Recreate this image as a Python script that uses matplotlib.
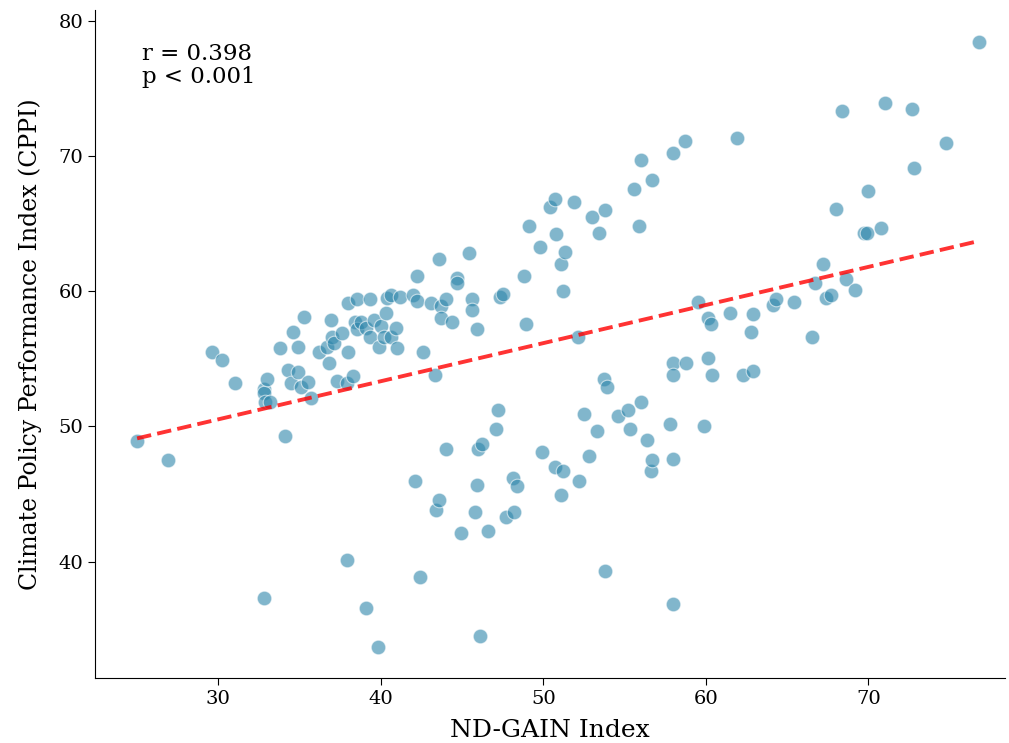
import numpy as np
import matplotlib
matplotlib.use("Agg")
import matplotlib.pyplot as plt

# ND-GAIN index vs CPPI
nd_gain = [
    25.0, 26.9, 29.6, 30.2, 31.0, 32.8, 32.8, 33.0, 32.9, 33.2,
    32.8, 33.8, 34.1, 34.3, 34.5, 34.6, 34.9, 34.9, 35.1, 35.3,
    35.5, 35.7, 36.2, 36.7, 36.9, 37.0, 37.1, 36.8, 37.3, 37.6,
    37.9, 38.0, 38.0, 37.9, 38.3, 38.5, 38.4, 38.5, 38.8, 39.1,
    39.3, 39.3, 39.1, 39.6, 39.9, 40.0, 40.3, 40.2, 39.8, 40.4,
    40.6, 40.6, 40.9, 41.0, 41.2, 42.0, 42.2, 42.2, 42.1, 42.4,
    42.6, 43.1, 43.3, 43.6, 43.7, 44.0, 43.7, 44.4, 44.0, 43.4,
    43.6, 44.7, 44.7, 44.9, 45.4, 45.6, 45.6, 45.9, 45.8, 45.9,
    46.0, 46.2, 46.1, 46.6, 47.1, 47.2, 47.3, 47.5, 47.7, 48.2,
    48.1, 48.4, 48.8, 48.9, 49.1, 49.8, 49.9, 50.4, 50.7, 50.8,
    50.7, 51.1, 51.3, 51.2, 51.2, 51.1, 51.9, 52.1, 52.2, 52.5,
    52.8, 53.0, 53.3, 53.4, 53.7, 53.9, 53.8, 53.8, 54.6, 55.2,
    55.3, 55.6, 55.9, 56.0, 56.0, 56.4, 56.6, 56.7, 56.7, 57.8,
    58.0, 58.0, 58.0, 58.0, 58.0, 58.7, 58.8, 59.5, 59.9, 60.1,
    60.1, 60.3, 60.4, 61.5, 61.9, 62.3, 62.9, 62.9, 62.8, 64.1,
    64.3, 65.4, 66.5, 66.7, 67.2, 67.4, 67.7, 68.0, 68.4, 68.6,
    69.2, 69.7, 69.9, 70.0, 70.8, 71.0, 72.7, 72.8, 74.8, 76.8,
]
cppi = [
    48.9, 47.5, 55.5, 54.9, 53.2, 52.8, 52.5, 53.5, 51.8, 51.8,
    37.3, 55.8, 49.3, 54.2, 53.2, 57.0, 55.9, 54.0, 52.9, 58.1,
    53.3, 52.1, 55.5, 55.9, 57.9, 56.6, 56.2, 54.7, 53.4, 56.9,
    53.2, 55.5, 59.1, 40.1, 53.7, 59.4, 57.7, 57.2, 57.7, 57.3,
    59.4, 56.6, 36.6, 57.9, 55.9, 57.4, 58.4, 56.6, 33.7, 59.5,
    59.7, 56.6, 57.3, 55.8, 59.6, 59.7, 59.3, 61.1, 46.0, 38.9,
    55.5, 59.1, 53.8, 62.4, 58.9, 59.4, 58.0, 57.7, 48.3, 43.8,
    44.6, 61.0, 60.6, 42.1, 62.8, 59.4, 58.6, 57.2, 43.7, 45.7,
    48.3, 48.7, 34.5, 42.3, 49.8, 51.2, 59.6, 59.8, 43.3, 43.7,
    46.2, 45.6, 61.1, 57.6, 64.8, 63.3, 48.1, 66.2, 66.8, 64.2,
    47.0, 62.0, 62.9, 60.0, 46.7, 44.9, 66.6, 56.6, 46.0, 50.9,
    47.8, 65.5, 49.7, 64.3, 53.5, 52.9, 66.0, 39.3, 50.8, 51.2,
    49.8, 67.6, 64.8, 69.7, 51.8, 49.0, 46.7, 47.5, 68.2, 50.2,
    54.7, 53.8, 47.6, 36.9, 70.2, 71.1, 54.7, 59.2, 50.0, 55.1,
    58.0, 57.6, 53.8, 58.4, 71.3, 53.8, 54.1, 58.3, 57.0, 59.0,
    59.4, 59.2, 56.6, 60.6, 62.0, 59.5, 59.7, 66.1, 73.3, 60.9,
    60.1, 64.3, 64.3, 67.4, 64.7, 73.9, 73.5, 69.1, 71.0, 78.4,
]
r_label = "r = 0.398\np < 0.001"

plt.rcParams["font.family"] = "DejaVu Serif"

fig = plt.figure(figsize=(10.09, 7.43), dpi=100)
ax = fig.add_axes([0.094, 0.0875, 0.902, 0.899])

x = np.array(nd_gain)
y = np.array(cppi)
ax.scatter(x, y, s=110, color="#2E86AB", alpha=0.6, edgecolor="white", linewidth=0.8)

slope, intercept = np.polyfit(x, y, 1)
xs = np.linspace(x.min(), x.max(), 100)
ax.plot(xs, slope * xs + intercept, color="red", linestyle="--", linewidth=2.8, alpha=0.8)

ax.text(0.052, 0.95, r_label, transform=ax.transAxes, fontsize=16.5,
        va="top", ha="left", linespacing=1.05)

ax.set_xlim(22.4, 78.4)
ax.set_ylim(31.4, 80.8)
ax.set_xticks([30, 40, 50, 60, 70])
ax.set_yticks([40, 50, 60, 70, 80])
ax.tick_params(labelsize=14, length=5)
ax.set_xlabel("ND-GAIN Index", fontsize=18, labelpad=8)
ax.set_ylabel("Climate Policy Performance Index (CPPI)", fontsize=17, labelpad=12)
ax.spines["top"].set_visible(False)
ax.spines["right"].set_visible(False)

fig.savefig("out.png", dpi=100)
